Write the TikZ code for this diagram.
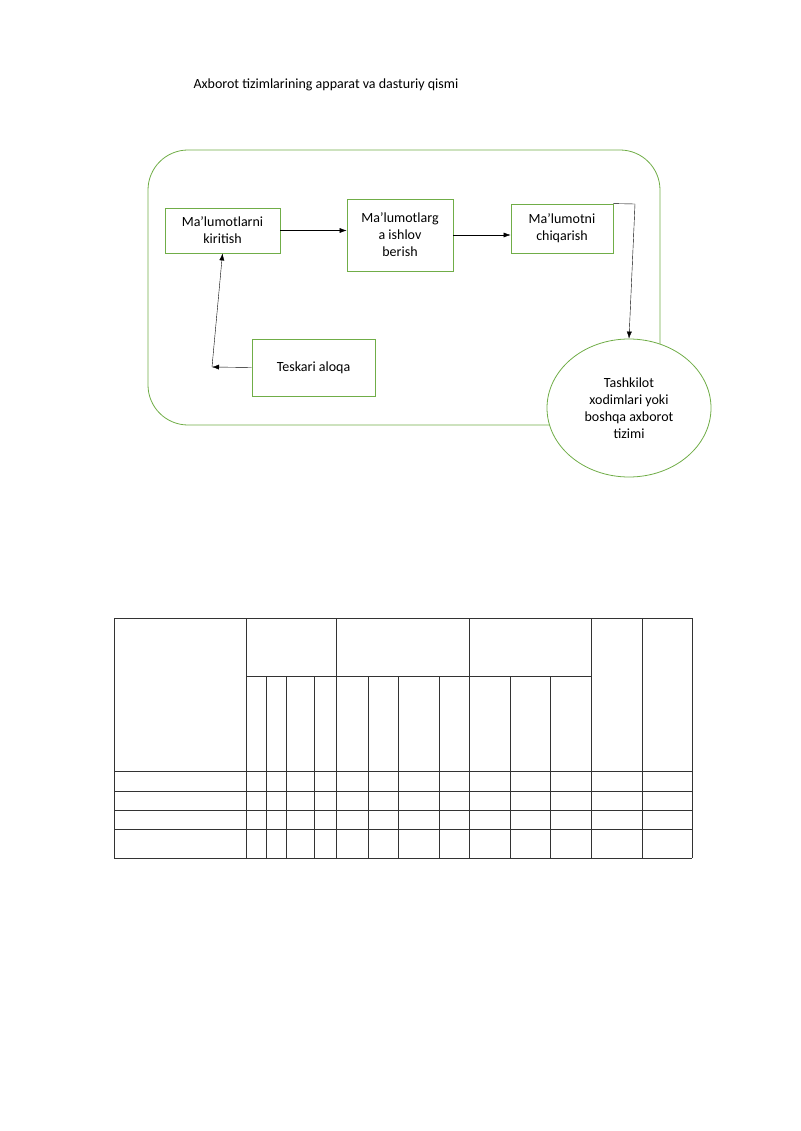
\documentclass[tikz,border=0pt]{standalone}
\usepackage{fontspec}
\setmainfont{Carlito}
\usetikzlibrary{shapes.geometric,arrows.meta}
\definecolor{grn}{RGB}{112,173,71}
\tikzset{
  box/.style={draw=grn, thick, align=center, inner sep=0pt},
  arr/.style={-{Latex[length=7pt,width=5pt]}, thin},
  cell/.style={draw=black!80, line width=0.6pt}
}
\begin{document}
\begin{tikzpicture}[x=1pt,y=-1pt,font=\fontsize{14}{17}\selectfont]
\useasboundingbox (0,0) rectangle (800,1131);
\node[anchor=west] (title) at (190,85) {Axborot tizimlarining apparat va dasturiy qismi};
\draw[grn, thick, rounded corners=40] (148,150) rectangle (660,425);
\node[box, minimum width=115, minimum height=45] (kirit) at (222.5,230.5) {Ma’lumotlarni\\kiritish};
\node[box, minimum width=106, minimum height=72] (ishlov) at (400,235) {Ma’lumotlarg\\a ishlov\\berish};
\node[box, minimum width=102, minimum height=49] (chiq) at (562,228.5) {Ma’lumotni\\chiqarish};
\node[box, minimum width=123, minimum height=57] (teskari) at (313.5,367.5) {Teskari aloqa};
\node[ellipse, draw=grn, thick, fill=white, minimum width=164, minimum height=138, align=center] (xodim) at (629,408) {Tashkilot\\xodimlari yoki\\boshqa axborot\\tizimi};
\coordinate (burch) at (635,204);
\coordinate (chap) at (212,367);
\draw[arr] (kirit.east) -- (ishlov.west |- kirit.east);
\draw[arr] (ishlov.east) -- (chiq.west |- ishlov.east);
\draw[arr] (chiq.north east) -- (burch) -- (xodim.north);
\draw[arr] (teskari.west) -- (chap);
\draw[arr] (chap) -- (kirit.south);
% jadval
\foreach \y in {618,771,791,810,829,858}
  \draw[cell] (114,\y) -- (692,\y);
\draw[cell] (246,676) -- (591,676);
\foreach \x in {114,246,336,469,591,642,692}
  \draw[cell] (\x,618) -- (\x,858);
\foreach \x in {266,286,314,368,398,439,510,550}
  \draw[cell] (\x,676) -- (\x,858);
\end{tikzpicture}
\end{document}
